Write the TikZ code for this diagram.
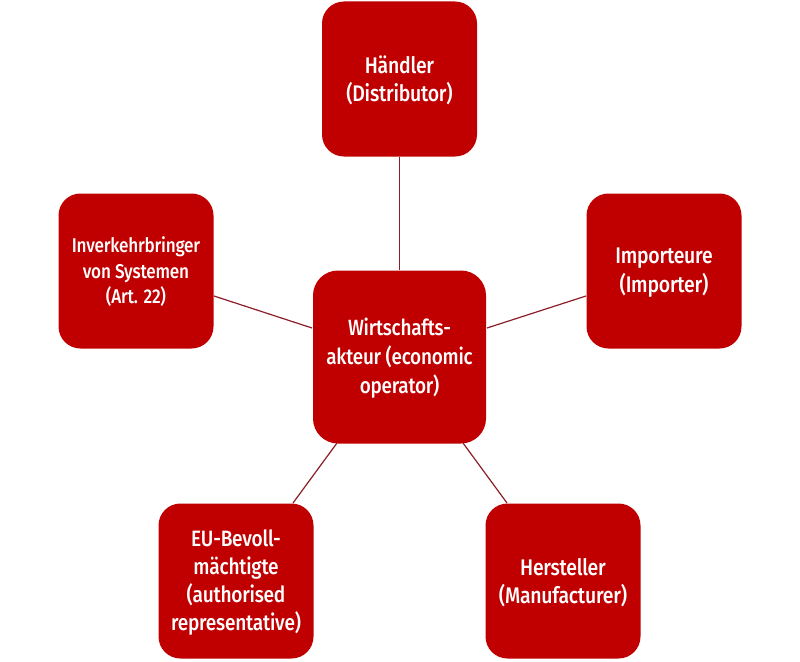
\documentclass[tikz,border=0pt]{standalone}
\usepackage{fontspec}
\setmainfont{Fira Sans Medium}[FakeStretch=0.86,LetterSpace=-1]
\definecolor{boxred}{RGB}{192,0,0}
\definecolor{linkred}{RGB}{140,30,40}
\tikzset{
 box/.style={draw=none,fill=boxred,rounded corners=22pt,inner sep=0pt,minimum width=155pt,minimum height=155pt},
 link/.style={draw=linkred,line width=1.2pt},
 lab/.style={text=white,align=center,inner sep=0pt,yshift=-1.5pt,font=\fontsize{22.6}{28.5}\selectfont},
 labsm/.style={text=white,align=center,inner sep=0pt,yshift=-1pt,font=\fontsize{19.9}{25.5}\selectfont},
 labeu/.style={text=white,align=center,inner sep=0pt,yshift=-1.5pt,font=\fontsize{22.2}{27.7}\selectfont},
 labc/.style={text=white,align=center,inner sep=0pt,yshift=-1.5pt,font=\fontsize{22}{29}\selectfont},
}
\begin{document}
\begin{tikzpicture}[x=1pt,y=-1pt]
\useasboundingbox (0,0) rectangle (800,661);
\fill[white] (0,0) rectangle (800,661);
\node[box,label={[lab]center:{Händler\\(Distributor)}}] (h) at (399.5,79) {};
\node[box,label={[lab]center:{Importeure\\(Importer)}}] (i) at (664,271) {};
\node[box,label={[labsm]center:{Inverkehrbringer\\von Systemen\\(Art. 22)}}] (v) at (136,271) {};
\node[box,label={[labeu]center:{EU-Bevoll-\\mächtigte\\(authorised\\representative)}}] (e) at (236,581) {};
\node[box,label={[lab]center:{Hersteller\\(Manufacturer)}}] (m) at (563,581) {};
\node[box,minimum width=173pt,minimum height=173pt,rounded corners=25pt,label={[labc]center:{Wirtschafts-\\akteur (economic\\operator)}}] (c) at (399.5,357) {};
\coordinate (i1) at (586,296);
\coordinate (c1) at (487,328);
\coordinate (v1) at (214,296);
\coordinate (c2) at (312,328);
\coordinate (e1) at (293,503);
\coordinate (c3) at (337,443);
\coordinate (m1) at (507,503);
\coordinate (c4) at (463,443);
\draw[link] (h.south) -- (c.north);
\draw[link] (i1) -- (c1);
\draw[link] (v1) -- (c2);
\draw[link] (e1) -- (c3);
\draw[link] (m1) -- (c4);
\end{tikzpicture}
\end{document}
